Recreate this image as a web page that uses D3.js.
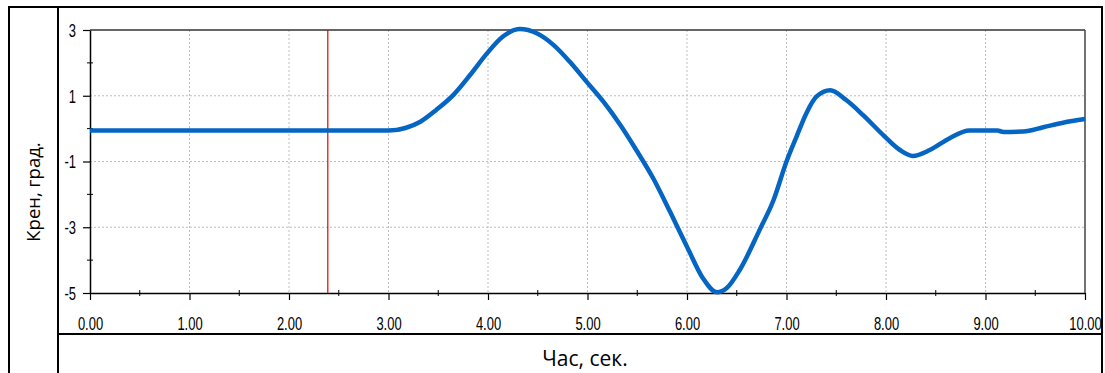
<!DOCTYPE html>
<html>
<head>
<meta charset="utf-8">
<script src="https://cdn.jsdelivr.net/npm/d3@7"></script>
<style>
  body { margin: 0; background: #fff; }
</style>
</head>
<body>
<div id="chart"></div>
<script>
// roll angle over time
const times = [0, 1, 2, 3.0, 3.17, 3.32, 3.48, 3.65, 3.82, 3.99, 4.15, 4.32, 4.49, 4.66, 4.82, 4.99, 5.16, 5.33, 5.49, 5.66, 5.83, 6.0, 6.16, 6.30, 6.40, 6.53, 6.73, 6.87, 7.0, 7.10, 7.20, 7.30, 7.44, 7.60, 7.77, 7.97, 8.14, 8.27, 8.44, 8.64, 8.84, 9.12, 9.18, 9.38, 9.58, 9.78, 10.0];
const roll  = [-0.06, -0.06, -0.06, -0.06, 0.02, 0.21, 0.57, 1.02, 1.63, 2.29, 2.80, 3.03, 2.90, 2.54, 2.04, 1.43, 0.82, 0.11, -0.65, -1.51, -2.53, -3.59, -4.55, -4.98, -4.85, -4.30, -3.08, -2.17, -1.0, -0.25, 0.47, 0.97, 1.17, 0.87, 0.41, -0.19, -0.65, -0.83, -0.65, -0.29, -0.06, -0.06, -0.10, -0.09, 0.04, 0.18, 0.29];
const marker = 2.39;
const xTicks = [0, 1, 2, 3, 4, 5, 6, 7, 8, 9, 10];
const yTicks = [3, 1, -1, -3, -5];

const data = times.map((t, i) => ({t: t, v: roll[i]}));

const W = 1105, H = 373;
const plot = {left: 90, right: 1085, top: 30, bottom: 293};
const tickFont = '"Liberation Sans", Arial, sans-serif';
const titleFont = '"Open Sans", "Noto Sans", sans-serif';
const narrow = 0.72; // squeeze tick labels like a narrow face

const svg = d3.select("#chart").append("svg")
  .attr("width", W).attr("height", H);

// frame
const frame = svg.append("g").attr("stroke", "#000").attr("stroke-width", 2).attr("fill", "none");
frame.append("path").attr("d", "M9,380 V7 H1102 V380");
frame.append("line").attr("x1", 58).attr("x2", 58).attr("y1", 7).attr("y2", 380);
frame.append("line").attr("x1", 58).attr("x2", 1102).attr("y1", 334).attr("y2", 334);

const x = d3.scaleLinear().domain([0, 10]).range([plot.left, plot.right]);
const y = d3.scaleLinear().domain([-5, 3]).range([plot.bottom, plot.top]);

// grid
svg.append("g").selectAll("line").data(xTicks.slice(1, -1)).join("line")
  .attr("x1", d => x(d)).attr("x2", d => x(d))
  .attr("y1", plot.top).attr("y2", plot.bottom)
  .attr("stroke", "#bdbdbd").attr("stroke-dasharray", "2,2");
svg.append("g").selectAll("line").data(yTicks.slice(1, -1)).join("line")
  .attr("x1", plot.left).attr("x2", plot.right)
  .attr("y1", d => y(d)).attr("y2", d => y(d))
  .attr("stroke", "#bdbdbd").attr("stroke-dasharray", "2,2");

// plot border top/right
svg.append("line").attr("x1", plot.left).attr("x2", plot.right)
  .attr("y1", plot.top).attr("y2", plot.top).attr("stroke", "#333").attr("stroke-width", 1.5);
svg.append("line").attr("x1", plot.right).attr("x2", plot.right)
  .attr("y1", plot.top).attr("y2", plot.bottom).attr("stroke", "#444").attr("stroke-width", 1.5);

// minor ticks
const minorX = d3.range(0.5, 10, 1);
svg.append("g").selectAll("line").data(minorX).join("line")
  .attr("x1", d => x(d)).attr("x2", d => x(d))
  .attr("y1", plot.bottom - 3).attr("y2", plot.bottom + 3)
  .attr("stroke", "#000");
const minorY = [2, 0, -2, -4];
svg.append("g").selectAll("line").data(minorY).join("line")
  .attr("x1", plot.left - 3).attr("x2", plot.left + 3)
  .attr("y1", d => y(d)).attr("y2", d => y(d))
  .attr("stroke", "#000");

// axes
const xAxis = svg.append("g")
  .attr("transform", "translate(0," + plot.bottom + ")")
  .call(d3.axisBottom(x).tickValues(xTicks).tickFormat(d3.format(".2f")).tickSize(7).tickPadding(17).tickSizeOuter(0));
const yAxis = svg.append("g")
  .attr("transform", "translate(" + plot.left + ",0)")
  .call(d3.axisLeft(y).tickValues(yTicks).tickFormat(d => d < 0 ? "-" + Math.abs(d) : d).tickSize(7).tickPadding(6).tickSizeOuter(0));
svg.selectAll(".domain").attr("stroke", "#000").attr("stroke-width", 1.5);
svg.selectAll(".tick line").attr("stroke", "#000").attr("stroke-width", 1.2);
svg.selectAll(".tick text").attr("font-family", tickFont).attr("font-size", 18).attr("fill", "#000");
xAxis.selectAll(".tick text").attr("transform", "scale(" + narrow + ",1)");
yAxis.selectAll(".tick text")
  .attr("dy", "0.35em")
  .attr("x", -14 / narrow)
  .attr("transform", "scale(" + narrow + ",1)");

// red marker
svg.append("line")
  .attr("x1", x(marker)).attr("x2", x(marker))
  .attr("y1", plot.top).attr("y2", plot.bottom)
  .attr("stroke", "#e00000").attr("stroke-width", 1.2);

// curve
svg.append("path")
  .datum(data)
  .attr("fill", "none")
  .attr("stroke", "#0565c3")
  .attr("stroke-width", 4.5)
  .attr("stroke-linejoin", "round")
  .attr("d", d3.line().x(d => x(d.t)).y(d => y(d.v)).curve(d3.curveMonotoneX));

// titles
svg.append("text")
  .attr("font-family", titleFont).attr("font-size", 21)
  .attr("x", 585).attr("y", 366).attr("text-anchor", "middle")
  .text("Час, сек.");
svg.append("text")
  .attr("font-family", titleFont).attr("font-size", 18.5)
  .attr("transform", "translate(40,192) rotate(-90)")
  .attr("text-anchor", "middle")
  .text("Крен, град.");
</script>
</body>
</html>
